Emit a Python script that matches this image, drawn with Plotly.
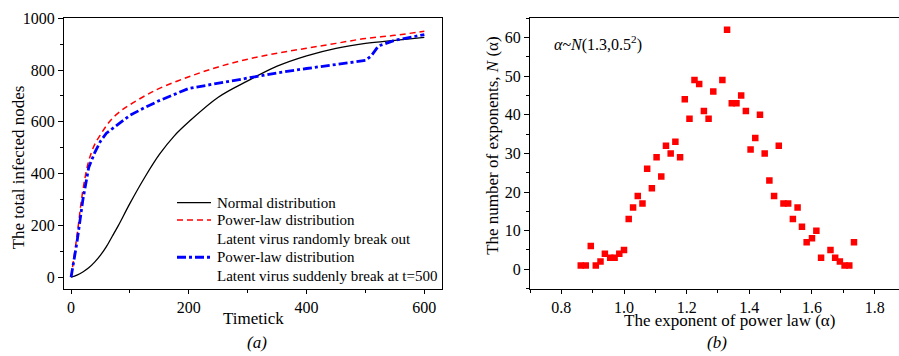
import plotly.graph_objects as go

# ---- panel (a) data ----
t_normal = [0, 10, 20, 30, 40, 50, 60, 70, 80, 100, 125, 150, 175, 200, 250, 300, 350, 400, 450, 500, 550, 600]
y_normal = [0, 8, 20, 36, 58, 85, 118, 158, 198, 285, 385, 474, 545, 600, 695, 758, 815, 855, 884, 903, 915, 926]

t_power = [0, 10, 20, 30, 40, 50, 60, 70, 85, 100, 125, 150, 200, 250, 300, 350, 400, 450, 500, 550, 600]
y_power = [0, 159, 335, 449, 512, 550, 585, 613, 643, 666, 700, 729, 774, 812, 842, 865, 884, 903, 922, 934, 950]

t_sudden = [0, 10, 20, 30, 40, 50, 60, 75, 100, 125, 150, 200, 250, 300, 350, 400, 450, 500, 510, 522, 550, 600]
y_sudden = [0, 134, 298, 424, 480, 525, 556, 581, 625, 655, 682, 729, 749, 768, 789, 806, 821, 837, 855, 893, 915, 937]

legend_labels = ["Normal distribution", "Power-law distribution", "Latent virus randomly break out",
                 "Power-law distribution", "Latent virus suddenly break at t=500"]

# ---- panel (b) data ----
alpha = [0.862, 0.878, 0.894, 0.910, 0.925, 0.939, 0.956, 0.970, 0.985, 1.000,
         1.015, 1.029, 1.044, 1.059, 1.074, 1.089, 1.104, 1.119, 1.134, 1.149,
         1.164, 1.179, 1.194, 1.209, 1.225, 1.240, 1.255, 1.270, 1.285, 1.314,
         1.329, 1.344, 1.359, 1.374, 1.389, 1.404, 1.419, 1.434, 1.449, 1.464,
         1.479, 1.494, 1.509, 1.524, 1.539, 1.554, 1.568, 1.583, 1.600, 1.614,
         1.629, 1.659, 1.674, 1.689, 1.704, 1.719, 1.734]
count = [1, 1, 6, 1, 2, 4, 3, 3, 4, 5,
         13, 16, 19, 17, 26, 21, 29, 24, 32, 30,
         33, 29, 44, 39, 49, 48, 41, 39, 46, 49,
         62, 43, 43, 45, 41, 31, 34, 40, 30, 23,
         19, 32, 17, 17, 13, 16, 11, 7, 8, 10,
         3, 5, 3, 2, 1, 1, 7]

FONT = "'Liberation Serif', 'Times New Roman', Times, serif"
W, H = 899, 356

BLACK = dict(color="black", width=1.3)
RED = dict(color="#ff0000", width=1.5, dash="6px,4px")
BLUE = dict(color="#0000ff", width=2.8, dash="9px,3px,3px,3px")

fig = go.Figure()
fig.add_trace(go.Scatter(x=t_normal, y=y_normal, mode="lines", name=legend_labels[0],
                         line=dict(**BLACK, shape="spline"), xaxis="x", yaxis="y"))
fig.add_trace(go.Scatter(x=t_power, y=y_power, mode="lines", name=legend_labels[1],
                         line=dict(**RED, shape="spline"), xaxis="x", yaxis="y"))
fig.add_trace(go.Scatter(x=t_sudden, y=y_sudden, mode="lines", name=legend_labels[3],
                         line=BLUE, xaxis="x", yaxis="y"))
fig.add_trace(go.Scatter(x=alpha, y=count, mode="markers",
                         marker=dict(symbol="square", size=6.5, color="#ff0000"),
                         xaxis="x2", yaxis="y2"))

ydom = [(H - 287) / H, (H - 10.5) / H]
tf = dict(family=FONT, size=16, color="black")
common = dict(showgrid=False, zeroline=False, linecolor="black", linewidth=1.2,
              ticks="outside", tickwidth=1, tickcolor="black", tickfont=tf)

fig.update_layout(
    width=W, height=H, margin=dict(l=0, r=0, t=0, b=0),
    paper_bgcolor="white", plot_bgcolor="white",
    font=dict(family=FONT, color="black"),
    showlegend=False,
    xaxis=dict(domain=[64 / W, 442 / W], range=[-12, 630], tick0=0, dtick=200, ticklen=4,
               minor=dict(dtick=100, ticks="outside", ticklen=3, tickcolor="black"),
               mirror=True, anchor="y", **common),
    yaxis=dict(domain=ydom, range=[-44, 1000], tick0=0, dtick=200, ticklen=5,
               minor=dict(dtick=100, ticks="outside", ticklen=3, tickcolor="black"),
               mirror=True, anchor="x", **common),
    xaxis2=dict(domain=[530 / W, 1.0], range=[0.7, 1.8777], tick0=0.8, dtick=0.2, tickformat=".1f",
                ticklen=4,
                minor=dict(dtick=0.1, ticks="outside", ticklen=3, tickcolor="black"),
                mirror=True, anchor="y2", **common),
    yaxis2=dict(domain=ydom, range=[-5, 65], tick0=0, dtick=10, ticklen=5,
                minor=dict(dtick=5, ticks="outside", ticklen=3, tickcolor="black"),
                mirror=False, anchor="x2", **common),
)

ann = [
    dict(text="The total infected nodes", x=18 / W, y=1 - 163 / H, textangle=-90, size=17),
    dict(text="Timetick", x=253 / W, y=1 - 318 / H, textangle=0, size=17),
    dict(text="<i>(a)</i>", x=257 / W, y=1 - 342 / H, textangle=0, size=17),
    dict(text="The number of exponents, <i>N</i> (α)", x=493 / W, y=1 - 140 / H, textangle=-90, size=17),
    dict(text="The exponent of power law (α)", x=729 / W, y=1 - 320 / H, textangle=0, size=17),
    dict(text="<i>(b)</i>", x=717 / W, y=1 - 342 / H, textangle=0, size=17),
]
for a in ann:
    fig.add_annotation(text=a["text"], x=a["x"], y=a["y"], xref="paper", yref="paper",
                       xanchor="center", yanchor="middle", showarrow=False, textangle=a["textangle"],
                       font=dict(family=FONT, size=a["size"], color="black"))
fig.add_annotation(text="<i>α</i>~<i>N</i>(1.3,0.5<sup>2</sup>)", x=552 / W, y=1 - 36 / H,
                   xref="paper", yref="paper", xanchor="left", yanchor="middle", showarrow=False,
                   font=dict(family=FONT, size=16, color="black"))

# custom legend (rows of text with line swatches)
rows_y = [199, 217, 236, 255, 274]
for lbl, ry in zip(legend_labels, rows_y):
    fig.add_annotation(text=lbl, x=215 / W, y=1 - ry / H, xref="paper", yref="paper",
                       xanchor="left", yanchor="middle", showarrow=False,
                       font=dict(family=FONT, size=15, color="black"))
for style, ry in [(BLACK, rows_y[0]), (RED, rows_y[1]), (BLUE, rows_y[3])]:
    fig.add_shape(type="line", xref="paper", yref="paper", x0=177 / W, x1=211 / W,
                  y0=1 - ry / H, y1=1 - ry / H, line=style)

fig.write_html("out.html")
